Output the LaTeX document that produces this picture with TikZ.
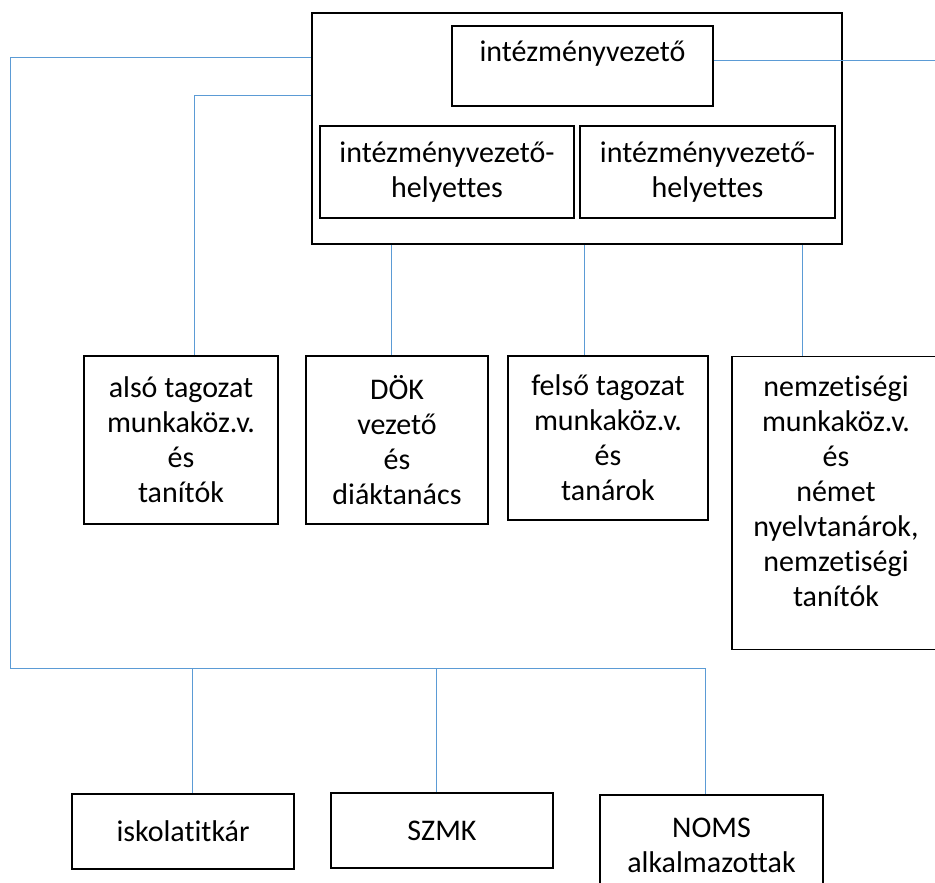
\documentclass[tikz,border=0pt]{standalone}
\usepackage{fontspec}
\setmainfont{Carlito}[Ligatures=NoCommon]
\definecolor{lblue}{RGB}{91,155,213}
\tikzset{box/.style = {draw, line width=1.4pt, align=center, inner sep=0,
    font=\fontsize{30}{35}\selectfont}}
\tikzset{link/.style = {draw=lblue, line width=1pt}}

\begin{document}
\begin{tikzpicture}[x=1pt, y=-1pt]
      \useasboundingbox (0,0) rectangle (935,883);
      \node [box, line width=1.8pt, minimum width=530, minimum height=231] (outer) at (577,128.5) {};
      \node [box, minimum width=261, minimum height=80, text depth=30pt] (chief) at (582.5,66) {intézményvezető};
      \node [box, minimum width=254, minimum height=92] (dep1) at (447,172) {intézményvezető-\\helyettes};
      \node [box, minimum width=255, minimum height=92] (dep2) at (707.5,172) {intézményvezető-\\helyettes};
      \node [box, minimum width=194, minimum height=168] (also) at (181,440) {alsó tagozat\\munkaköz.v.\\és\\tanítók};
      \node [box, minimum width=182, minimum height=168] (dok) at (397,440) {DÖK\\vezető\\és\\diáktanács};
      \node [box, minimum width=200, minimum height=164] (felso) at (608,438) {felső tagozat\\munkaköz.v.\\és\\tanárok};
      \node [box, minimum width=208, minimum height=293, text depth=24pt] (nemz) at (836,503) {nemzetiségi\\munkaköz.v.\\és\\német\\nyelvtanárok,\\nemzetiségi\\tanítók};
      \node [box, minimum width=222, minimum height=75] (isk) at (183,831.5) {iskolatitkár};
      \node [box, minimum width=222, minimum height=75] (szmk) at (442,830.5) {SZMK};
      \node [box, minimum width=223, minimum height=100] (noms) at (711.5,845) {NOMS\\alkalmazottak};
      % bends of the connectors
      \coordinate (tl) at (10,58);
      \coordinate (bl) at (10,668);
      \coordinate (br) at (705,668);
      \coordinate (a1) at (194,96);
      \coordinate (re) at (935,61);
      \coordinate (v1) at (391,0);
      \coordinate (v2) at (584,0);
      \coordinate (v3) at (802,0);
      \coordinate (w1) at (192,0);
      \coordinate (w2) at (436,0);
      \coordinate (w3) at (705,0);
      \draw [link] (outer.west |- tl) -- (tl) -- (bl) -- (br);
      \draw [link] (outer.west |- a1) -- (a1) -- (also.north -| a1);
      \draw [link] (chief.east |- re) -- (re);
      \draw [link] (outer.south -| v1) -- (dok.north -| v1);
      \draw [link] (outer.south -| v2) -- (felso.north -| v2);
      \draw [link] (outer.south -| v3) -- (nemz.north -| v3);
      \draw [link] (bl -| w1) -- (isk.north -| w1);
      \draw [link] (bl -| w2) -- (szmk.north -| w2);
      \draw [link] (bl -| w3) -- (noms.north -| w3);
    \end{tikzpicture}
\end{document}
